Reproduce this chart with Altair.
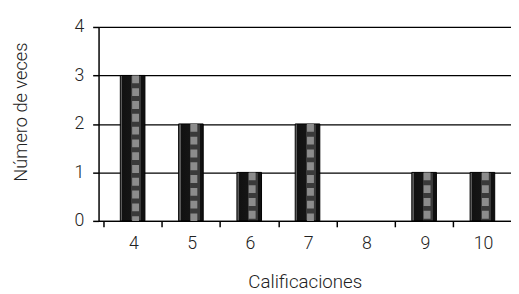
import altair as alt
import pandas as pd

calificaciones = [4, 5, 6, 7, 8, 9, 10]
veces = [3, 2, 1, 2, 0, 1, 1]
tick_vals = [3.5, 4.5, 5.5, 6.5, 7.5, 8.5, 9.5]

df = pd.DataFrame({"cal": calificaciones, "n": veces})
df_bars = df[df["n"] > 0]

FONT = "Roboto"
FW = 300

xscale = alt.Scale(domain=[3.5, 10.406], nice=False, zero=False)
yscale = alt.Scale(domain=[0, 4], nice=False)

grad = alt.Gradient(
    gradient="linear", x1=0, x2=1, y1=0, y2=0,
    stops=[
        alt.GradientStop(offset=0, color="#5a5a5a"),
        alt.GradientStop(offset=0.08, color="#5a5a5a"),
        alt.GradientStop(offset=0.08, color="#111111"),
        alt.GradientStop(offset=0.45, color="#151515"),
        alt.GradientStop(offset=0.45, color="#3a3a3a"),
        alt.GradientStop(offset=0.85, color="#3a3a3a"),
        alt.GradientStop(offset=0.85, color="#111111"),
        alt.GradientStop(offset=1, color="#111111"),
    ],
)

x_enc = alt.X(
    "cal:Q", scale=xscale,
    axis=alt.Axis(
        title="Calificaciones", values=tick_vals,
        labelExpr="format(datum.value + 0.5, 'd')",
        labelOffset=30.3, labelFlush=False, labelBound=False, labelOverlap=False,
        grid=False, domainColor="#000", domainWidth=1.5,
        tickColor="#000", tickSize=6, tickWidth=1.5,
        labelFont=FONT, labelFontSize=18, labelFontWeight=FW, labelColor="#222",
        labelPadding=8,
        titleFont=FONT, titleFontSize=19, titleFontWeight=FW,
        titleColor="#222", titlePadding=21,
    ),
)
y_enc = alt.Y(
    "n:Q", scale=yscale,
    axis=alt.Axis(
        title="Número de veces", values=[0, 1, 2, 3, 4],
        grid=True, gridColor="#000", gridWidth=1.2, gridOpacity=1,
        domainColor="#000", domainWidth=1.5,
        tickColor="#000", tickSize=6, tickWidth=1.5,
        labelFont=FONT, labelFontSize=18, labelFontWeight=FW, labelColor="#222",
        labelPadding=9,
        titleFont=FONT, titleFontSize=18.5, titleFontWeight=FW,
        titleColor="#222", titleY=86, titleX=-69,
    ),
)

bars = alt.Chart(df_bars).mark_bar(
    width=25, color=grad, stroke="#000", strokeWidth=1
).encode(x=x_enc, y=y_enc)

checks = alt.Chart(df_bars).mark_rule(
    color="#8c8c8c", strokeWidth=7, strokeDash=[8, 5], xOffset=3
).encode(x=alt.X("cal:Q", scale=xscale), y=alt.Y("n:Q", scale=yscale), y2=alt.datum(0))

chart = alt.layer(bars, checks).properties(
    width=419, height=197,
    autosize=alt.AutoSizeParams(type="none"),
    padding={"left": 92, "top": 17, "right": 0, "bottom": 72},
    background="white",
).configure_view(stroke=None)

chart.save("out.html", embed_options={"renderer": "svg", "actions": False})
